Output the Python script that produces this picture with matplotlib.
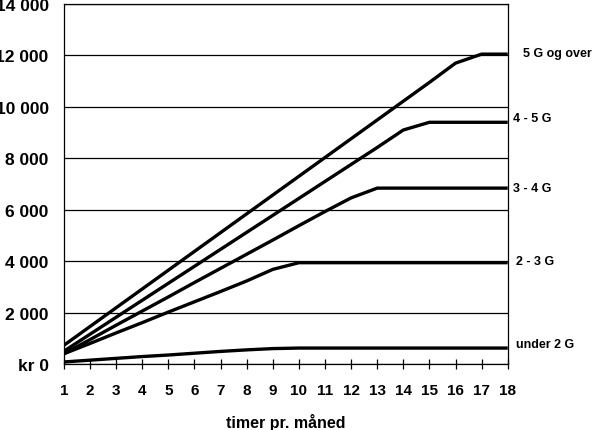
import matplotlib
matplotlib.use('Agg')
import matplotlib.pyplot as plt

plt.rcParams['font.family'] = ['Liberation Sans', 'DejaVu Sans']
plt.rcParams['font.weight'] = 'bold'

hours = list(range(1, 19))

under_2g = [80, 150, 220, 290, 350, 420, 490, 550, 600, 620, 620, 620, 620, 620, 620, 620, 620, 620]
g2_3 = [400, 800, 1210, 1610, 2020, 2420, 2820, 3230, 3680, 3940, 3940, 3940, 3940, 3940, 3940, 3940, 3940, 3940]
g3_4 = [400, 950, 1510, 2060, 2610, 3170, 3720, 4270, 4820, 5380, 5930, 6460, 6840, 6840, 6840, 6840, 6840, 6840]
g4_5 = [500, 1160, 1820, 2480, 3140, 3800, 4460, 5120, 5780, 6440, 7100, 7760, 8420, 9100, 9400, 9400, 9400, 9400]
g5_over = [730, 1460, 2190, 2920, 3650, 4380, 5110, 5840, 6570, 7300, 8030, 8760, 9490, 10220, 10950, 11700, 12050, 12050]

series = [under_2g, g2_3, g3_4, g4_5, g5_over]
names = ['under 2 G', '2 - 3 G', '3 - 4 G', '4 - 5 G', '5 G og over']
label_dx = [6, 6, 4, 4, 11]   # pixel offset of the end labels
label_dy = [3, 1, 0, 3, 1]

yticks = [0, 2000, 4000, 6000, 8000, 10000, 12000, 14000]
ytick_labels = ['kr 0', '2 000', '4 000', '6 000', '8 000', '10 000', '12 000', '14 000']

fig = plt.figure(figsize=(5.98, 4.31), dpi=100)
ax = fig.add_axes([0.107, 0.1531, 0.742, 0.8353])

for yv in yticks:
    ax.axhline(yv, color='black', lw=0.9, zorder=1)

for vals, name, dx, dy in zip(series, names, label_dx, label_dy):
    ax.plot(hours, vals, color='black', lw=2.4, solid_capstyle='butt', zorder=3)
    ax.annotate(name, xy=(hours[-1], vals[-1]), xytext=(dx, dy),
                textcoords='offset points', fontsize=9, fontweight='bold',
                va='center', ha='left', annotation_clip=False)

ax.set_xlim(1, 18)
ax.set_ylim(0, 14000)
ax.set_xticks(hours)
ax.set_yticks(yticks)
ax.set_yticklabels(ytick_labels)
ax.tick_params(axis='y', length=0, pad=11, labelsize=12.5)
ax.tick_params(axis='x', direction='inout', length=7, width=0.9, pad=10, labelsize=11)
for lab in ax.get_xticklabels() + ax.get_yticklabels():
    lab.set_fontweight('bold')

for sp in ax.spines.values():
    sp.set_linewidth(0.9)

ax.set_xlabel('timer pr. måned', fontsize=11.5, fontweight='bold', labelpad=12)

fig.savefig('out.png', dpi=100)
